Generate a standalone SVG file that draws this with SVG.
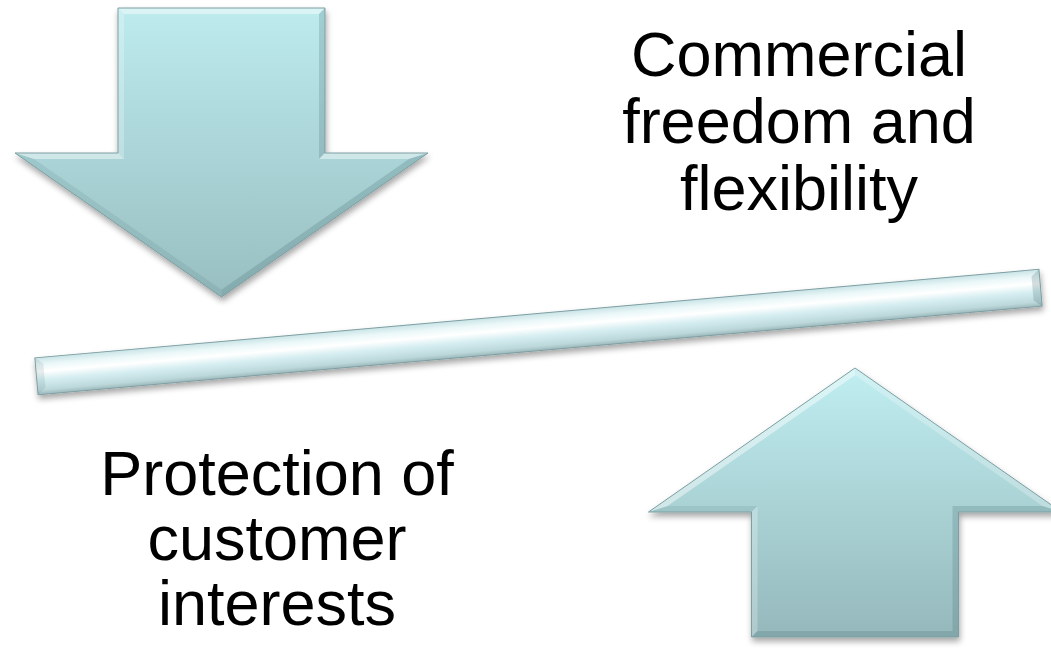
<svg xmlns="http://www.w3.org/2000/svg" width="1051" height="659" viewBox="0 0 1051 659">
  <defs>
    <linearGradient id="gDown" x1="0" y1="0" x2="0" y2="1">
      <stop offset="0" stop-color="#BDEBEE"/>
      <stop offset="1" stop-color="#98BEC1"/>
    </linearGradient>
    <linearGradient id="gUp" x1="0" y1="0" x2="0" y2="1">
      <stop offset="0" stop-color="#C0EEF1"/>
      <stop offset="1" stop-color="#95B8BB"/>
    </linearGradient>
    <linearGradient id="gBar" x1="0" y1="0" x2="0" y2="1">
      <stop offset="0" stop-color="#C9E3E6"/>
      <stop offset="0.18" stop-color="#EAF7F8"/>
      <stop offset="0.38" stop-color="#FFFFFF"/>
      <stop offset="0.6" stop-color="#D6EEF1"/>
      <stop offset="0.88" stop-color="#BCD8DB"/>
      <stop offset="1" stop-color="#9DB8BB"/>
    </linearGradient>
    <filter id="shadow" x="-10%" y="-10%" width="120%" height="130%">
      <feGaussianBlur in="SourceAlpha" stdDeviation="3"/>
      <feOffset dx="1" dy="4" result="b"/>
      <feComponentTransfer><feFuncA type="linear" slope="0.35"/></feComponentTransfer>
      <feMerge><feMergeNode/><feMergeNode in="SourceGraphic"/></feMerge>
    </filter>
    <style>
      .outline { fill: none; stroke: #7E9FA2; stroke-width: 1; stroke-linejoin: miter; }
      .hl { fill: #FFFFFF; fill-opacity: 0.45; }
      .hl2 { fill: #FFFFFF; fill-opacity: 0.25; }
      .sh { fill: #3F6A6E; fill-opacity: 0.22; }
      .sh2 { fill: #3F6A6E; fill-opacity: 0.12; }
      .label { font-family: "Liberation Sans", Arial, sans-serif; font-size: 63px; fill: #000000; text-anchor: middle; }
    </style>
  </defs>

  <g id="down-arrow" filter="url(#shadow)">
    <polygon points="118,8 325,8 325,153 428,153 221.5,297 15,153 118,153" fill="url(#gDown)"/>
    <polygon class="hl" points="118,8 325,8 319,14 124,14"/>
    <polygon class="sh" points="325,8 325,153 319,159 319,14"/>
    <polygon class="hl" points="325,153 428,153 408.9,159 319,159"/>
    <polygon class="sh" points="428,153 221.5,297 221.5,289.7 408.9,159"/>
    <polygon class="sh2" points="221.5,297 15,153 34.1,159 221.5,289.7"/>
    <polygon class="hl" points="15,153 118,153 124,159 34.1,159"/>
    <polygon class="hl2" points="118,153 118,8 124,14 124,159"/>
    <polygon class="outline" points="118,8 325,8 325,153 428,153 221.5,297 15,153 118,153"/>
  </g>

  <g id="up-arrow" filter="url(#shadow)">
    <polygon points="855,368 1061.5,512 958.5,512 958.5,637 751.5,637 751.5,512 648.5,512" fill="url(#gUp)"/>
    <polygon class="hl2" points="855,368 1061.5,512 1042.4,506 855,375.3"/>
    <polygon class="sh" points="1061.5,512 958.5,512 952.5,506 1042.4,506"/>
    <polygon class="sh" points="958.5,512 958.5,637 952.5,631 952.5,506"/>
    <polygon class="sh" points="958.5,637 751.5,637 757.5,631 952.5,631"/>
    <polygon class="hl2" points="751.5,637 751.5,512 757.5,506 757.5,631"/>
    <polygon class="sh2" points="751.5,512 648.5,512 667.6,506 757.5,506"/>
    <polygon class="hl" points="648.5,512 855,368 855,375.3 667.6,506"/>
    <polygon class="outline" points="855,368 1061.5,512 958.5,512 958.5,637 751.5,637 751.5,512 648.5,512"/>
  </g>

  <g id="balance-bar" filter="url(#shadow)">
    <g transform="translate(538.5,332) rotate(-5.04)">
      <rect x="-504" y="-18.5" width="1008" height="37" fill="url(#gBar)"/>
      <polygon class="sh2" points="-504,-18.5 -496,-12 -496,12 -504,18.5"/>
      <polygon class="sh" points="504,-18.5 504,18.5 496,12 496,-12"/>
      <rect x="-504" y="-18.5" width="1008" height="37" class="outline" stroke="#8FA6A8"/>
    </g>
  </g>

  <g id="label-commercial">
    <text class="label" x="799" y="76">Commercial</text>
    <text class="label" x="799" y="143">freedom and</text>
    <text class="label" x="799" y="210">flexibility</text>
  </g>

  <g id="label-protection">
    <text class="label" x="277" y="495">Protection of</text>
    <text class="label" x="277" y="560">customer</text>
    <text class="label" x="277" y="625">interests</text>
  </g>

  <g id="connectors"/>
</svg>
